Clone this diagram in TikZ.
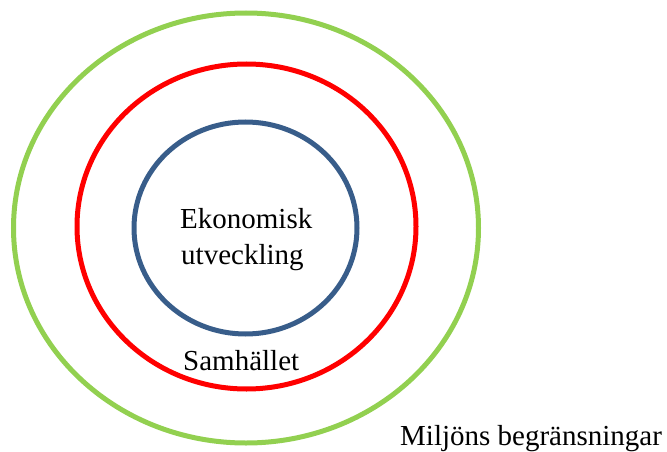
\documentclass[tikz,border=0pt]{standalone}
\usepackage{fontspec}
\setmainfont{Liberation Serif}
\definecolor{envgreen}{HTML}{92D050}
\definecolor{socred}{HTML}{FF0000}
\definecolor{ecoblue}{HTML}{385D8A}
\begin{document}
\begin{tikzpicture}[x=1pt,y=-1pt,
  ring/.style={line width=5pt},
  lbl/.style={font=\fontsize{29}{36}\selectfont, inner sep=0pt, anchor=base west}]
\useasboundingbox (0,0) rectangle (667,452);
% nested circles: environment, society, economy
\draw[ring, envgreen] (246,228) ellipse [x radius=232.5, y radius=215];
\draw[ring, socred] (246.5,226.5) ellipse [x radius=169.5, y radius=162.5];
\draw[ring, ecoblue] (245.5,228) ellipse [x radius=111.5, y radius=106];
% labels
\node[lbl] (eco1) at (180,228) {Ekonomisk};
\node[lbl] (eco2) at (181,264) {utveckling};
\node[lbl] (soc) at (183,370) {Samhället};
\node[lbl] (env) at (400,445) {Miljöns begränsningar};
\end{tikzpicture}
\end{document}
